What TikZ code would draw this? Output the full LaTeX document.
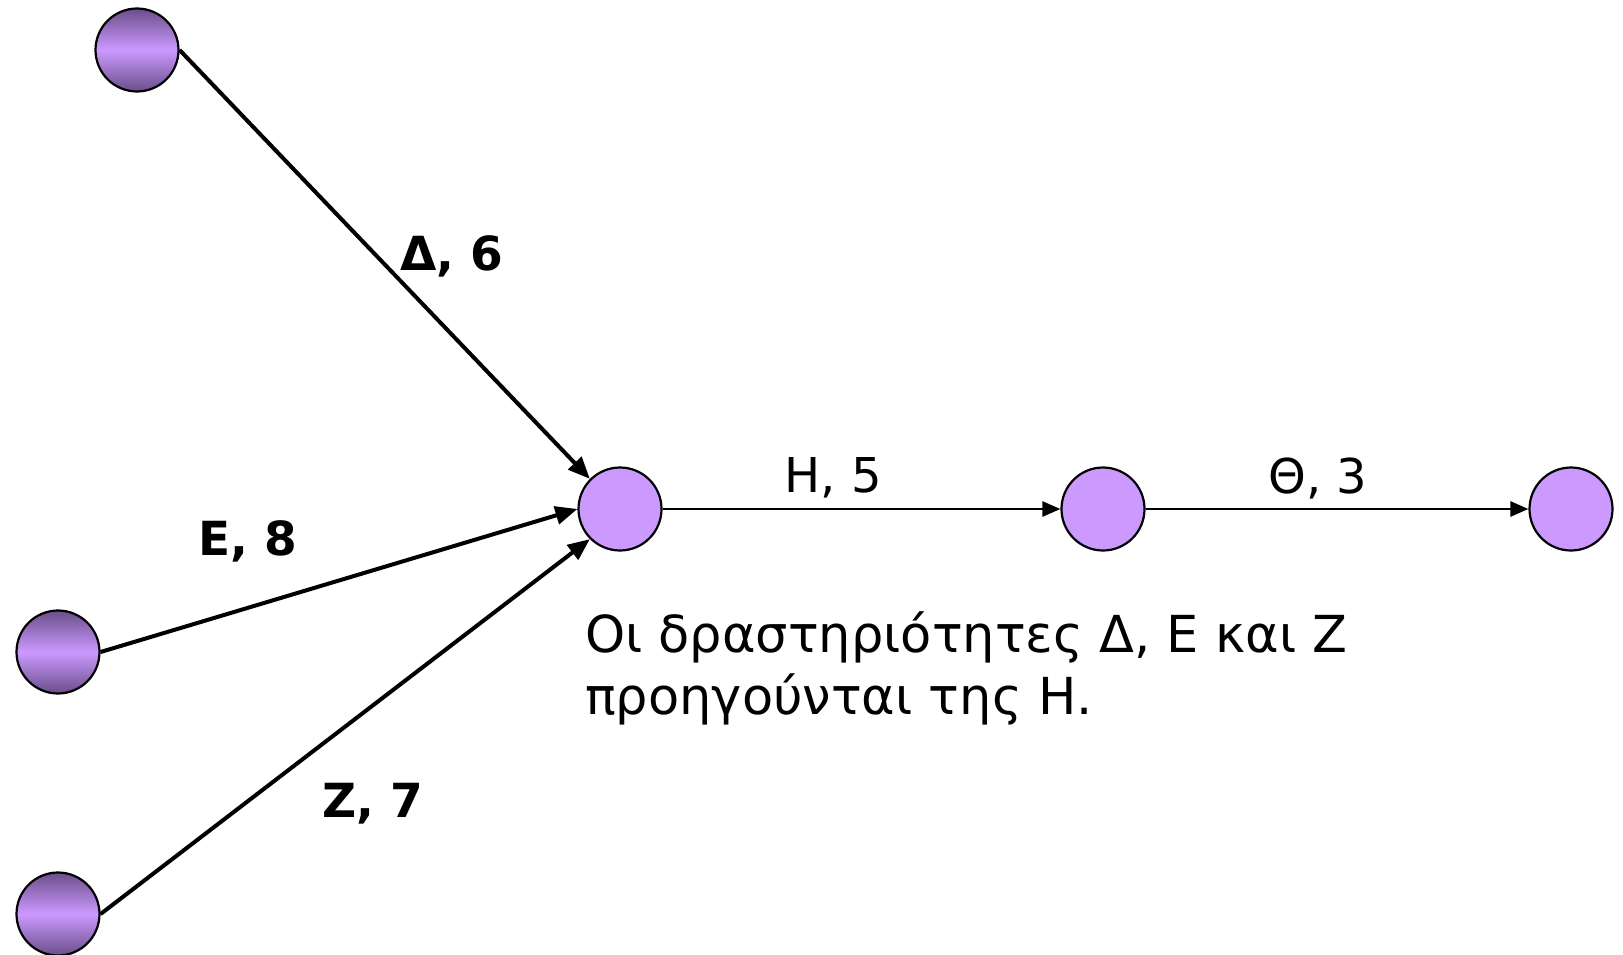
\documentclass[tikz,border=0pt]{standalone}
\usepackage{fontspec}
\setmainfont{DejaVu Sans}
\usetikzlibrary{arrows.meta}
\definecolor{lil}{HTML}{CC99FF}
\definecolor{dlil}{HTML}{6A4E8A}
\tikzset{
  ev/.style={circle,draw=black,line width=2.2pt,minimum size=83pt,inner sep=0pt,fill=lil},
  evg/.style={circle,draw=black,line width=2.2pt,minimum size=83pt,inner sep=0pt,top color=dlil,bottom color=dlil,middle color=lil},
  thick arc/.style={line width=4pt,-{Triangle[length=22pt,width=18pt]}},
  thin arc/.style={line width=2.6pt,-{Triangle[length=18pt,width=15pt]}},
  blab/.style={font=\fontsize{47}{52}\selectfont\bfseries},
  nlab/.style={font=\fontsize{48}{52}\selectfont},
}
\begin{document}
\begin{tikzpicture}[x=1pt,y=-1pt]
\useasboundingbox (0,0) rectangle (1623,955);
\node[evg] (a) at (137,50) {};
\node[evg] (b) at (58,652) {};
\node[evg] (c) at (58,914) {};
\node[ev] (m) at (620,509) {};
\node[ev] (n) at (1103,509) {};
\node[ev] (o) at (1571,509) {};
\draw[thick arc] (a.east) -- (m.north west);
\draw[thick arc] (b.east) -- (m.west);
\draw[thick arc] (c.east) -- (m.south west);
\draw[thin arc] (m) -- (n);
\draw[thin arc] (n) -- (o);
\node[blab] (l1) at (452,256) {Δ, 6};
\node[blab] (l2) at (248,541) {Ε, 8};
\node[blab] (l3) at (373,804) {Ζ, 7};
\node[nlab] (l4) at (833,478) {Η, 5};
\node[nlab] (l5) at (1318,478) {Θ, 3};
\node[anchor=base west,align=left,inner sep=0pt,font=\fontsize{51}{62}\selectfont] (t) at (585,714) {Οι δραστηριότητες Δ, Ε και Ζ\\προηγούνται της Η.};
\end{tikzpicture}
\end{document}
